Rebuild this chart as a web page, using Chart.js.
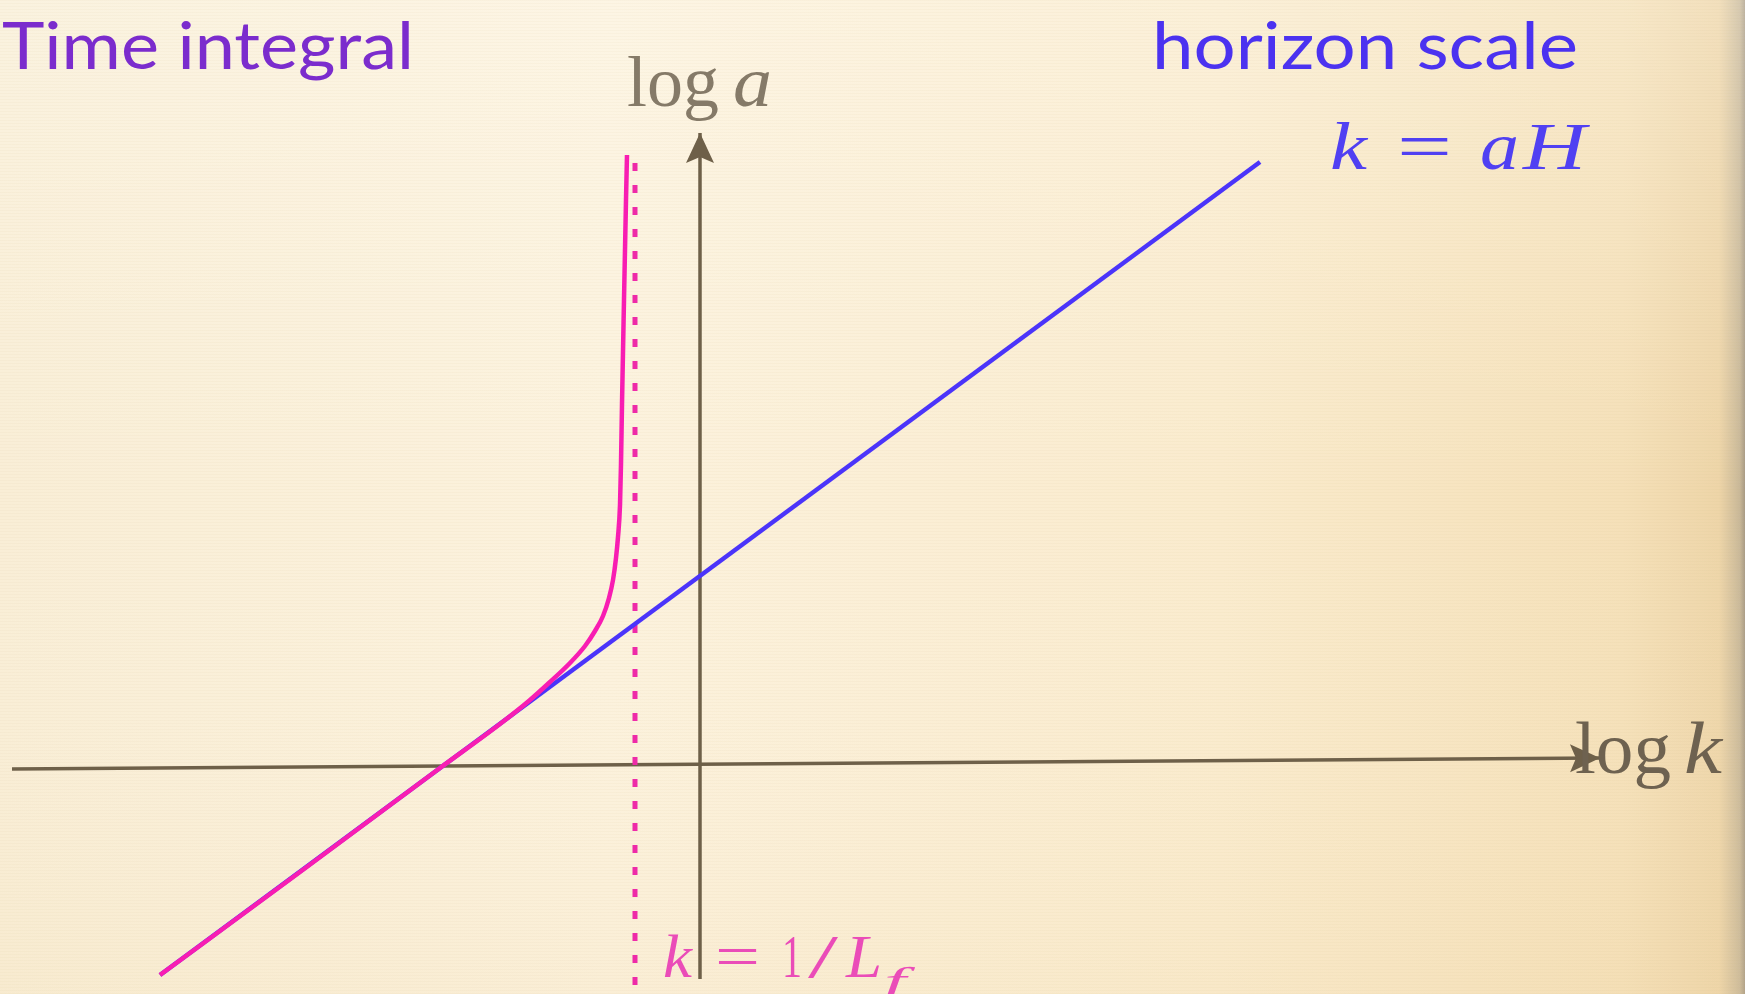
<!DOCTYPE html>
<html>
<head>
<meta charset="utf-8">
<title>Time integral / horizon scale</title>
<script src="https://cdn.jsdelivr.net/npm/chart.js@4.4.1/dist/chart.umd.min.js"></script>
<style>
  html, body { margin: 0; padding: 0; background: #fbf0d9; overflow: hidden; }
  #diagram { display: block; filter: blur(0.6px); }
</style>
</head>
<body>
<canvas id="diagram" width="1745" height="994"></canvas>
<script>
// coordinates are (log k, log a); the two axes cross at 0,0
const kAxisK = [-6.88, 9.00];
const kAxisA = [-0.03, 0.08];
const aAxisK = [0, 0];
const aAxisA = [-2.13, 6.33];

// horizon scale k = aH
const horizonK = [-5.40, 5.60];
const horizonA = [-2.09, 6.04];

// time integral: follows the horizon, then bends up towards k = 1/L_f
const integralK = [-5.40, -4.00, -2.60, -2.00, -1.70, -1.50, -1.30, -1.15, -1.05, -0.97, -0.91, -0.87, -0.84, -0.82, -0.80, -0.79, -0.78, -0.76, -0.74, -0.73];
const integralA = [-2.09, -1.06, -0.02, 0.42, 0.66, 0.84, 1.03, 1.20, 1.35, 1.50, 1.68, 1.86, 2.08, 2.29, 2.61, 3.02, 3.62, 4.66, 5.66, 6.11];

// cutoff k = 1/L_f
const cutoffK = [-0.65, -0.65];
const cutoffA = [-2.19, 6.11];

const axisColor = '#6e6049';
const magenta = '#f81db2';
const blue = '#4b34fa';

const toPoints = (xs, ys) => xs.map((x, i) => ({ x: x, y: ys[i] }));

// paper-like background
const paper = {
  id: 'paper',
  beforeDraw(chart) {
    const { ctx, width, height } = chart;
    const g = ctx.createLinearGradient(0, 0, width, 0);
    g.addColorStop(0, '#f9eed6');
    g.addColorStop(0.35, '#fcf2dd');
    g.addColorStop(0.7, '#faebcd');
    g.addColorStop(0.93, '#f5e0b8');
    g.addColorStop(0.985, '#eed5a8');
    g.addColorStop(0.997, '#c9b898');
    g.addColorStop(1, '#a89a84');
    ctx.save();
    ctx.fillStyle = g;
    ctx.fillRect(0, 0, width, height);
    const v = ctx.createLinearGradient(0, 0, 0, height);
    v.addColorStop(0, 'rgba(255,255,250,0.25)');
    v.addColorStop(0.5, 'rgba(255,255,250,0)');
    v.addColorStop(1, 'rgba(240,215,170,0.15)');
    ctx.fillStyle = v;
    ctx.fillRect(0, 0, width, height);
    // faint horizontal grain
    ctx.fillStyle = 'rgba(200,170,120,0.05)';
    for (let y = 0; y < height; y += 3) ctx.fillRect(0, y, width, 1);
    ctx.restore();
  }
};

// stealth arrowheads at the end of datasets flagged with arrow: true
const arrowheads = {
  id: 'arrowheads',
  afterDatasetsDraw(chart) {
    const ctx = chart.ctx;
    chart.data.datasets.forEach((ds, i) => {
      if (!ds.arrow) return;
      const pts = chart.getDatasetMeta(i).data;
      const a = pts[pts.length - 2], b = pts[pts.length - 1];
      const ang = Math.atan2(b.y - a.y, b.x - a.x);
      const len = 30, half = 14, notch = 6;
      ctx.save();
      ctx.translate(b.x, b.y);
      ctx.rotate(ang);
      ctx.fillStyle = ds.borderColor;
      ctx.beginPath();
      ctx.moveTo(0, 0);
      ctx.lineTo(-len, -half);
      ctx.lineTo(-len + notch, 0);
      ctx.lineTo(-len, half);
      ctx.closePath();
      ctx.fill();
      ctx.restore();
    });
  }
};

// draws a run of glyphs, each stretched to its own slot [x0, x1]
function drawPieces(ctx, pieces, family, size, color, baseline) {
  ctx.fillStyle = color;
  ctx.textBaseline = 'alphabetic';
  ctx.textAlign = 'left';
  pieces.forEach(p => {
    ctx.font = (p.italic ? 'italic ' : '') + (p.size || size) + 'px ' + family;
    const w = ctx.measureText(p.t).width;
    ctx.save();
    ctx.translate(p.x0, p.base || baseline);
    ctx.scale((p.x1 - p.x0) / w, 1);
    ctx.fillText(p.t, 0, 0);
    ctx.restore();
  });
}

const labels = {
  id: 'labels',
  afterDraw(chart) {
    const ctx = chart.ctx;
    const serif = '"Liberation Serif", "Times New Roman", serif';
    const sans = 'Lato, "Open Sans", sans-serif';
    ctx.save();
    drawPieces(ctx, [{ t: 'Time integral', x0: 2, x1: 414 }], sans, 66, '#7b2ccd', 69);
    drawPieces(ctx, [{ t: 'horizon scale', x0: 1152, x1: 1578 }], sans, 66, '#4b32f0', 69);

    drawPieces(ctx, [
      { t: 'log', x0: 627, x1: 719 },
      { t: 'a', x0: 733, x1: 772, italic: true }
    ], serif, 72, '#857a68', 106);

    drawPieces(ctx, [
      { t: 'log', x0: 1575, x1: 1671 },
      { t: 'k', x0: 1684, x1: 1722, italic: true }
    ], serif, 75, '#6e6250', 773);

    drawPieces(ctx, [
      { t: 'k', x0: 1330, x1: 1367, italic: true },
      { t: '=', x0: 1397, x1: 1452 },
      { t: 'a', x0: 1480, x1: 1519, italic: true },
      { t: 'H', x0: 1523, x1: 1586, italic: true }
    ], serif, 68, '#5040f2', 169);

    drawPieces(ctx, [
      { t: 'k', x0: 663, x1: 692, italic: true },
      { t: '=', x0: 715, x1: 760 },
      { t: '1', x0: 782, x1: 802 },
      { t: '/', x0: 808, x1: 838 },
      { t: 'L', x0: 846, x1: 882, italic: true },
      { t: 'f', x0: 884, x1: 906, italic: true, size: 38, base: 994 }
    ], serif, 62, '#ea4cb8', 977);
    ctx.restore();
  }
};

new Chart(document.getElementById('diagram'), {
  type: 'scatter',
  data: {
    datasets: [
      {
        label: 'time integral',
        data: toPoints(integralK, integralA),
        showLine: true,
        borderColor: magenta,
        borderWidth: 4.5,
        cubicInterpolationMode: 'monotone',
        pointRadius: 0
      },
      {
        label: 'k = aH',
        data: toPoints(horizonK, horizonA),
        showLine: true,
        borderColor: blue,
        borderWidth: 4.5,
        pointRadius: 0
      },
      {
        label: 'k = 1/L_f',
        data: toPoints(cutoffK, cutoffA),
        showLine: true,
        borderColor: '#ee2aa8',
        borderWidth: 5,
        borderDash: [8, 14],
        borderCapStyle: 'butt',
        pointRadius: 0
      },
      {
        label: 'log a',
        data: toPoints(aAxisK, aAxisA),
        showLine: true,
        borderColor: axisColor,
        borderWidth: 3.5,
        pointRadius: 0,
        arrow: true
      },
      {
        label: 'log k',
        data: toPoints(kAxisK, kAxisA),
        showLine: true,
        borderColor: axisColor,
        borderWidth: 3.5,
        pointRadius: 0,
        arrow: true
      }
    ]
  },
  options: {
    responsive: false,
    animation: false,
    events: [],
    layout: { padding: 0 },
    scales: {
      x: { type: 'linear', min: -7.0, max: 10.45, display: false },
      y: { type: 'linear', min: -2.28, max: 7.66, display: false }
    },
    plugins: {
      legend: { display: false },
      tooltip: { enabled: false }
    }
  },
  plugins: [paper, arrowheads, labels]
});
</script>
</body>
</html>
